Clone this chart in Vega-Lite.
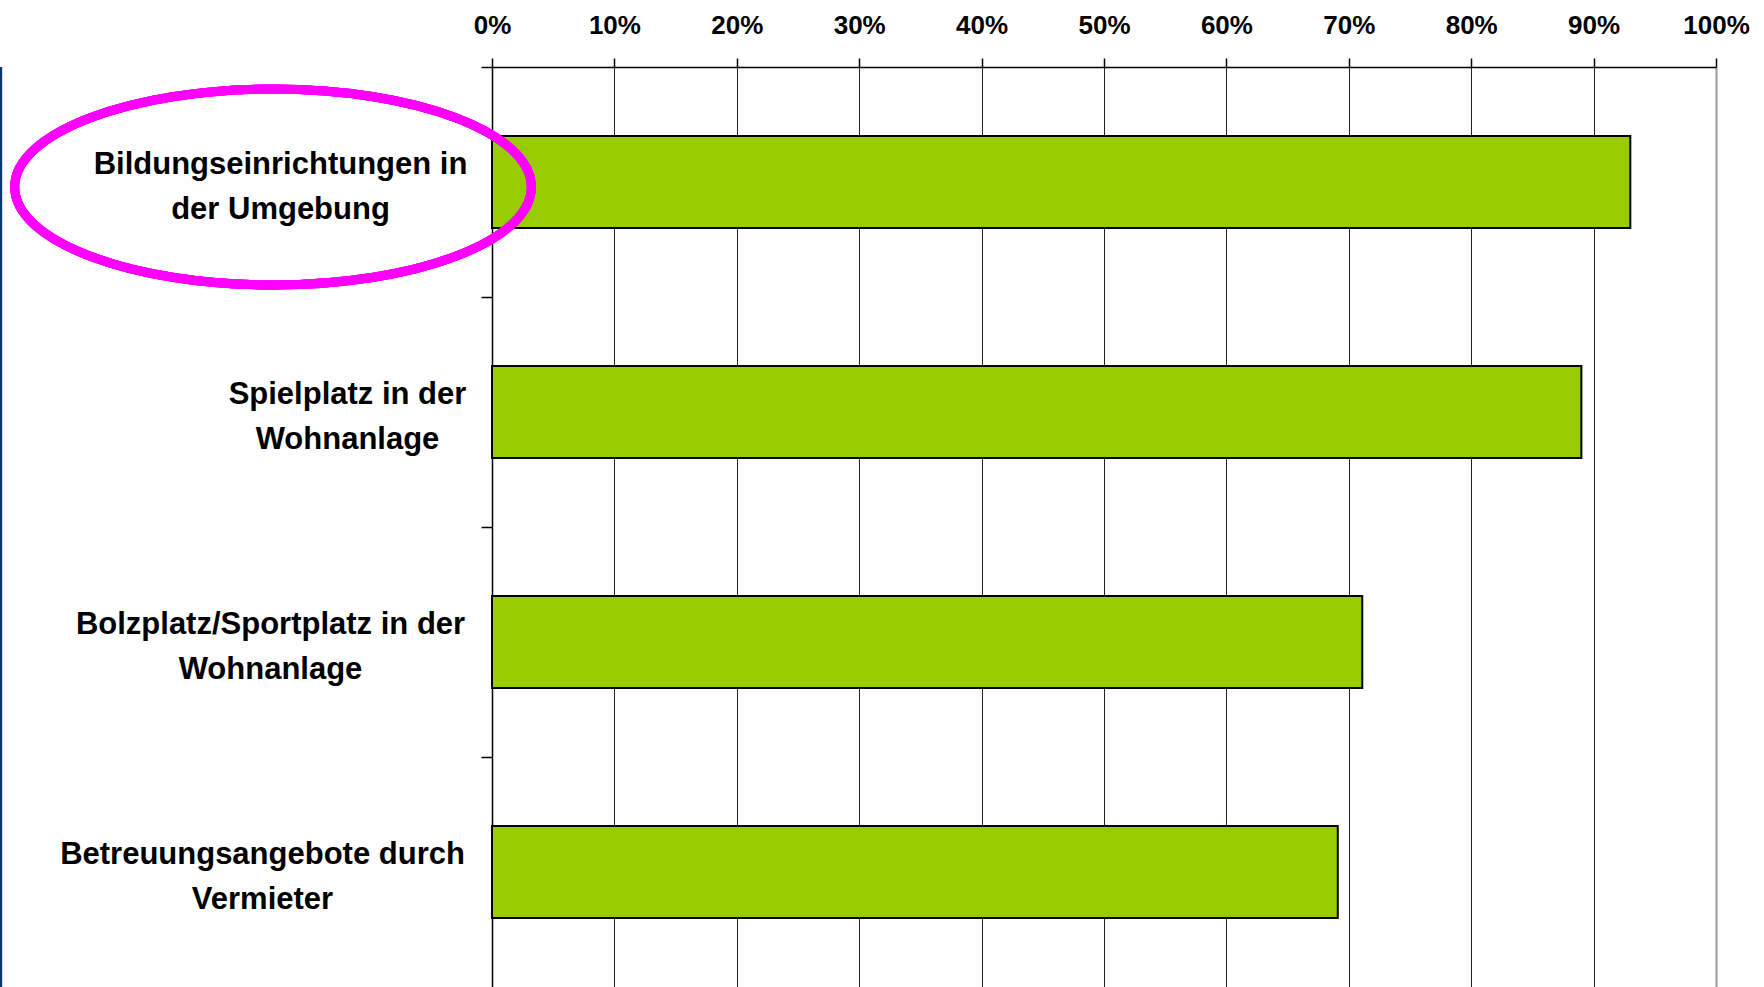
{
  "$schema": "https://vega.github.io/schema/vega-lite/v6.json",
  "autosize": "none",
  "width": 1224,
  "height": 920,
  "padding": {"left": 492, "top": 67, "right": 48, "bottom": 0},
  "background": "#ffffff",
  "config": {"view": {"stroke": null}},
  "data": {
    "values": [
      {"kategorie": "Bildungseinrichtungen in der Umgebung", "anteil": 0.93},
      {"kategorie": "Spielplatz in der Wohnanlage", "anteil": 0.89},
      {"kategorie": "Bolzplatz/Sportplatz in der Wohnanlage", "anteil": 0.711},
      {"kategorie": "Betreuungsangebote durch Vermieter", "anteil": 0.691}
    ]
  },
  "layer": [
    {
      "mark": {"type": "bar", "fill": "#99CC00", "stroke": "#000000", "strokeWidth": 2},
      "encoding": {
        "y": {
          "field": "kategorie",
          "type": "nominal",
          "sort": null,
          "scale": {"paddingInner": 0.6, "paddingOuter": 0.3},
          "axis": {
            "title": null,
            "orient": "left",
            "domainColor": "#000000",
            "domainWidth": 1.5,
            "tickColor": "#000000",
            "tickWidth": 1.5,
            "tickSize": 11,
            "tickOffset": -115,
            "labelOffset": 97,
            "labelFont": "Liberation Sans",
            "labelFontWeight": "bold",
            "labelFontSize": 31,
            "labelColor": "#000000",
            "labelAlign": "center",
            "labelBaseline": "middle",
            "labelLineHeight": 45,
            "labelLimit": 0,
            "labelPadding": {
              "condition": [
                {"test": "datum.value == 'Bildungseinrichtungen in der Umgebung'", "value": 201},
                {"test": "datum.value == 'Spielplatz in der Wohnanlage'", "value": 134},
                {"test": "datum.value == 'Bolzplatz/Sportplatz in der Wohnanlage'", "value": 211}
              ],
              "value": 219
            },
            "labelExpr": "datum.value == 'Bildungseinrichtungen in der Umgebung' ? ['Bildungseinrichtungen in', 'der Umgebung'] : datum.value == 'Spielplatz in der Wohnanlage' ? ['Spielplatz in der', 'Wohnanlage'] : datum.value == 'Bolzplatz/Sportplatz in der Wohnanlage' ? ['Bolzplatz/Sportplatz in der', 'Wohnanlage'] : ['Betreuungsangebote durch', 'Vermieter']"
          }
        },
        "x": {
          "field": "anteil",
          "type": "quantitative",
          "scale": {"domain": [0, 1], "nice": false, "zero": true},
          "axis": {
            "title": null,
            "orient": "top",
            "format": ".0%",
            "values": [0, 0.1, 0.2, 0.3, 0.4, 0.5, 0.6, 0.7, 0.8, 0.9, 1],
            "domainColor": "#000000",
            "domainWidth": 1.5,
            "tickColor": "#000000",
            "tickWidth": 1.5,
            "tickSize": 9,
            "labelFont": "Liberation Sans",
            "labelFontWeight": "bold",
            "labelFontSize": 26,
            "labelColor": "#000000",
            "labelPadding": 20,
            "labelFlush": false,
            "grid": true,
            "gridColor": {"condition": {"test": "datum.value == 1", "value": "#999999"}, "value": "#222222"},
            "gridWidth": {"condition": {"test": "datum.value == 1", "value": 2}, "value": 1},
            "gridOpacity": 1
          }
        }
      }
    },
    {
      "mark": {
        "type": "point",
        "shape": "M -1 0 C -1 -0.2093 -0.5523 -0.379 0 -0.379 C 0.5523 -0.379 1 -0.2093 1 0 C 1 0.2093 0.5523 0.379 0 0.379 C -0.5523 0.379 -1 0.2093 -1 0 Z",
        "filled": false,
        "stroke": "#FF00FF",
        "strokeWidth": 9,
        "opacity": 1,
        "strokeOpacity": 1,
        "size": 267000,
        "yOffset": 5
      },
      "encoding": {
        "x": {"datum": -0.1789, "type": "quantitative"},
        "y": {"datum": "Bildungseinrichtungen in der Umgebung", "type": "nominal"}
      }
    },
    {
      "mark": {"type": "rule", "stroke": "#0D3A6E", "strokeWidth": 2},
      "encoding": {
        "x": {"datum": -0.4011, "type": "quantitative"}
      }
    }
  ]
}
